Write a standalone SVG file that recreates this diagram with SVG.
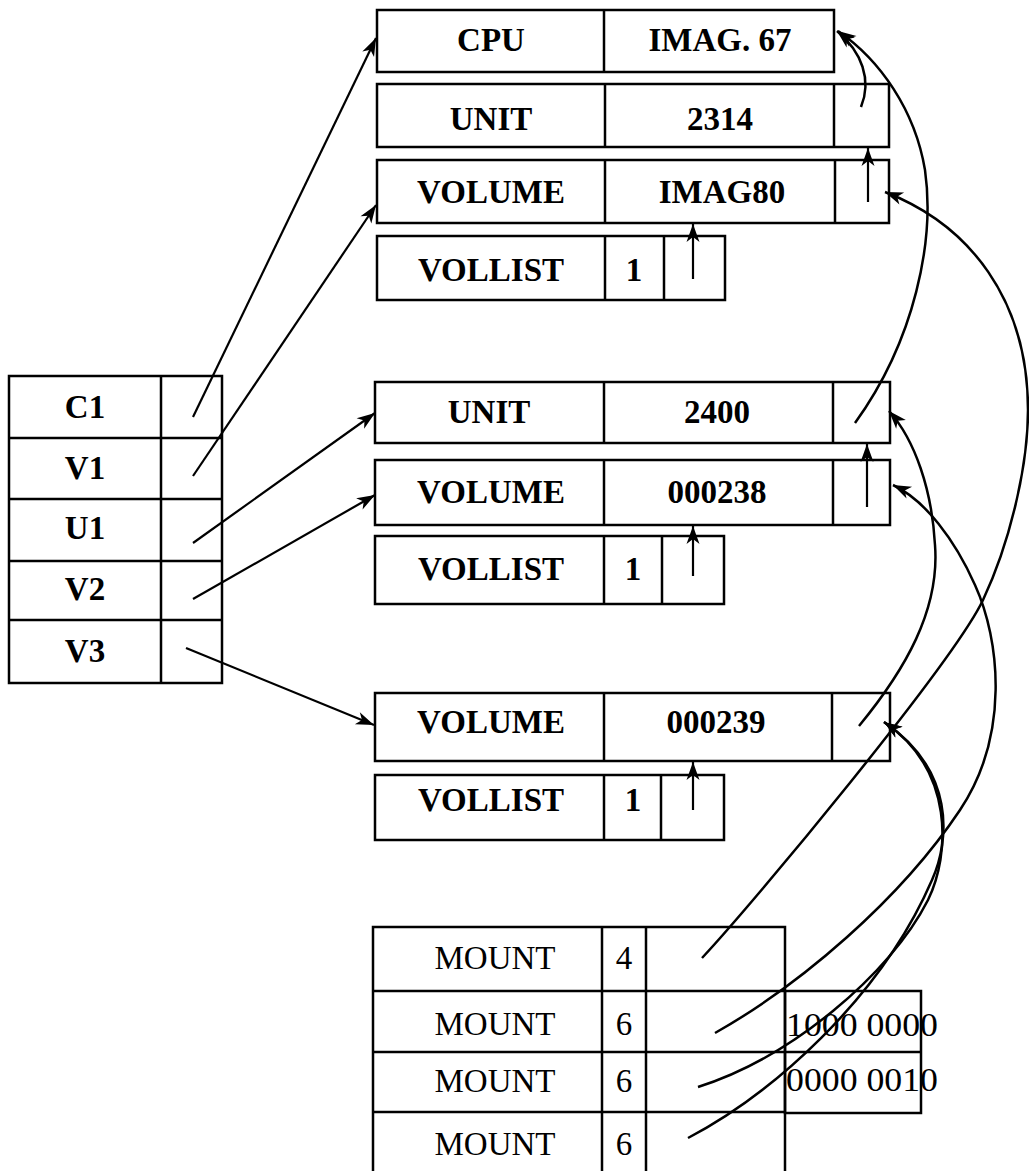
<svg xmlns="http://www.w3.org/2000/svg" width="1029" height="1171" viewBox="0 0 1029 1171">
<style>
.box{fill:none;stroke:#000;stroke-width:2.5}
.b{font-family:"Liberation Serif",serif;font-weight:bold;font-size:33px;text-anchor:middle;fill:#000}
.r{font-family:"Liberation Serif",serif;font-size:33px;text-anchor:middle;fill:#000}
.d{font-family:"Liberation Serif",serif;font-size:33px;fill:#000}
.ln{fill:none;stroke:#000;stroke-width:2.2}
.cv{fill:none;stroke:#000;stroke-width:2.5}
</style>
<defs>
<marker id="ah" markerUnits="userSpaceOnUse" markerWidth="20" markerHeight="14" viewBox="0 0 20 14" refX="19" refY="7" orient="auto">
<path d="M1,0.5 L19,7 L1,13.5 L6,7 z" fill="#000"/>
</marker>
</defs>
<rect width="1029" height="1171" fill="#fff"/>

<g id="cpu">
<rect class="box" x="377" y="10" width="457" height="62"/>
<line class="box" x1="604" y1="10" x2="604" y2="72"/>
<text class="b" x="491" y="51">CPU</text>
<text class="b" x="720" y="51">IMAG. 67</text>
</g>
<g id="unit1">
<rect class="box" x="377" y="84" width="512" height="63"/>
<line class="box" x1="605" y1="84" x2="605" y2="147"/>
<line class="box" x1="834" y1="84" x2="834" y2="147"/>
<text class="b" x="491" y="130">UNIT</text>
<text class="b" x="720" y="130">2314</text>
</g>
<g id="volume1">
<rect class="box" x="377" y="160" width="512" height="63"/>
<line class="box" x1="605" y1="160" x2="605" y2="223"/>
<line class="box" x1="835" y1="160" x2="835" y2="223"/>
<text class="b" x="491" y="203">VOLUME</text>
<text class="b" x="722" y="203">IMAG80</text>
</g>
<g id="vollist1">
<rect class="box" x="377" y="236" width="348" height="64"/>
<line class="box" x1="605" y1="236" x2="605" y2="300"/>
<line class="box" x1="664" y1="236" x2="664" y2="300"/>
<text class="b" x="491" y="281">VOLLIST</text>
<text class="b" x="634" y="281">1</text>
</g>

<g id="unit2">
<rect class="box" x="375" y="382" width="515" height="61"/>
<line class="box" x1="604" y1="382" x2="604" y2="443"/>
<line class="box" x1="833" y1="382" x2="833" y2="443"/>
<text class="b" x="489" y="423">UNIT</text>
<text class="b" x="717" y="423">2400</text>
</g>
<g id="volume2">
<rect class="box" x="375" y="460" width="515" height="65"/>
<line class="box" x1="604" y1="460" x2="604" y2="525"/>
<line class="box" x1="833" y1="460" x2="833" y2="525"/>
<text class="b" x="491" y="503">VOLUME</text>
<text class="b" x="717" y="503">000238</text>
</g>
<g id="vollist2">
<rect class="box" x="375" y="536" width="349" height="68"/>
<line class="box" x1="604" y1="536" x2="604" y2="604"/>
<line class="box" x1="662" y1="536" x2="662" y2="604"/>
<text class="b" x="491" y="580">VOLLIST</text>
<text class="b" x="633" y="580">1</text>
</g>

<g id="volume3">
<rect class="box" x="375" y="693" width="515" height="68"/>
<line class="box" x1="604" y1="693" x2="604" y2="761"/>
<line class="box" x1="832" y1="693" x2="832" y2="761"/>
<text class="b" x="491" y="733">VOLUME</text>
<text class="b" x="716" y="733">000239</text>
</g>
<g id="vollist3">
<rect class="box" x="375" y="775" width="349" height="65"/>
<line class="box" x1="604" y1="775" x2="604" y2="840"/>
<line class="box" x1="661" y1="775" x2="661" y2="840"/>
<text class="b" x="491" y="811">VOLLIST</text>
<text class="b" x="633" y="811">1</text>
</g>

<g id="symtab">
<rect class="box" x="9" y="376" width="213" height="307"/>
<line class="box" x1="161" y1="376" x2="161" y2="683"/>
<line class="box" x1="9" y1="438" x2="222" y2="438"/>
<line class="box" x1="9" y1="499" x2="222" y2="499"/>
<line class="box" x1="9" y1="561" x2="222" y2="561"/>
<line class="box" x1="9" y1="620" x2="222" y2="620"/>
<text class="b" x="85" y="418">C1</text>
<text class="b" x="85" y="479">V1</text>
<text class="b" x="85" y="539">U1</text>
<text class="b" x="85" y="600">V2</text>
<text class="b" x="85" y="662">V3</text>
</g>

<g id="mount">
<path class="box" d="M373,1171 L373,927 L785,927 L785,1171 M602,927 L602,1171 M646,927 L646,1171 M373,991 L785,991 M373,1052 L785,1052 M373,1112 L785,1112"/>
<text class="r" x="495" y="969">MOUNT</text>
<text class="r" x="624" y="969">4</text>
<text class="r" x="495" y="1035">MOUNT</text>
<text class="r" x="624" y="1035">6</text>
<text class="r" x="495" y="1092">MOUNT</text>
<text class="r" x="624" y="1092">6</text>
<text class="r" x="495" y="1155">MOUNT</text>
<text class="r" x="624" y="1155">6</text>
</g>
<g id="mask">
<rect class="box" x="785" y="991" width="136" height="122"/>
<line class="box" x1="785" y1="1052" x2="921" y2="1052"/>
<text class="d" x="786" y="1036" textLength="152" lengthAdjust="spacingAndGlyphs">1000 0000</text>
<text class="d" x="786" y="1091" textLength="152" lengthAdjust="spacingAndGlyphs">0000 0010</text>
</g>

<g id="connectors">
<path class="ln" d="M193,417 L376,38" marker-end="url(#ah)"/>
<path class="ln" d="M193,476 L376,205" marker-end="url(#ah)"/>
<path class="ln" d="M193,543 L375,413" marker-end="url(#ah)"/>
<path class="ln" d="M193,599 L375,495" marker-end="url(#ah)"/>
<path class="ln" d="M186,648 L374,725" marker-end="url(#ah)"/>
<path class="ln" d="M693,279 L693,224" marker-end="url(#ah)"/>
<path class="ln" d="M868,202 L868,148" marker-end="url(#ah)"/>
<path class="ln" d="M693,576 L693,526" marker-end="url(#ah)"/>
<path class="ln" d="M867,507 L867,444" marker-end="url(#ah)"/>
<path class="ln" d="M693,810 L693,762" marker-end="url(#ah)"/>
<path class="cv" d="M861,107 C872,80 862,52 837,31" marker-end="url(#ah)"/>
<path class="cv" d="M855,423 C915,340 935,240 925,170 C915,110 880,60 838,31" marker-end="url(#ah)"/>
<path class="cv" d="M702,958 C752,905 953,663 983,600 C1008,547 1028,470 1028,410 C1028,300 970,225 885,192" marker-end="url(#ah)"/>
<path class="cv" d="M859,726 C905,670 940,610 935,545 C932,490 915,440 889,411" marker-end="url(#ah)"/>
<path class="cv" d="M715,1033 C800,985 900,900 960,810 C1010,735 1000,640 975,585 C955,540 925,500 893,485" marker-end="url(#ah)"/>
<path class="cv" d="M698,1087 C790,1058 890,975 928,900 C950,855 955,770 884,722" marker-end="url(#ah)"/>
<path class="cv" d="M688,1138 C770,1095 880,1000 932,880 C950,840 955,770 884,722" marker-end="url(#ah)"/>
</g>
</svg>
